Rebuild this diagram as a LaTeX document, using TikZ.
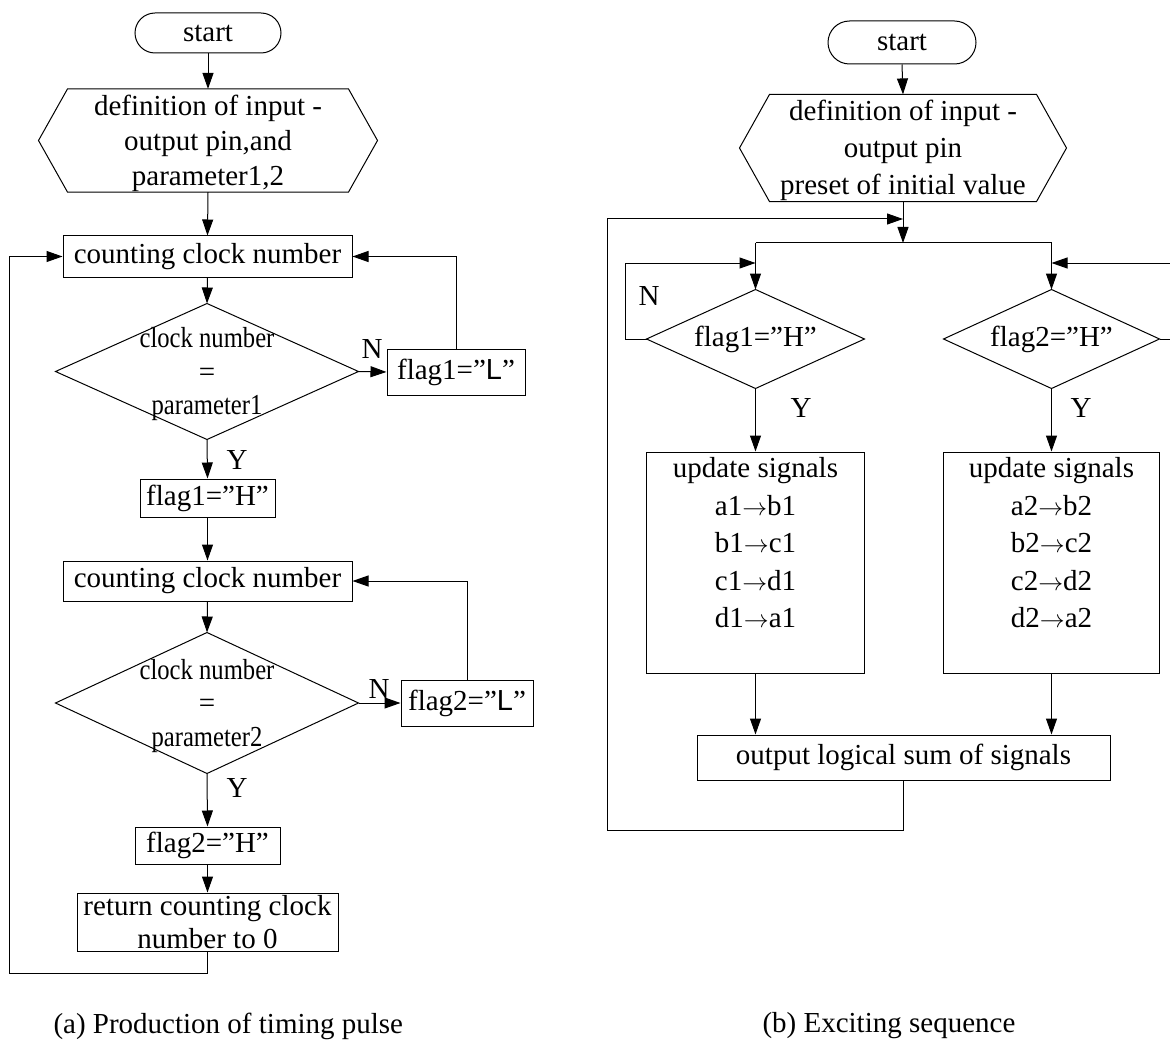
\documentclass[tikz,border=0pt]{standalone}
\usepackage{fontspec}
\setmainfont{Liberation Serif}
\newfontfamily\sansL{Liberation Sans}
\usepackage{graphicx}
\usetikzlibrary{arrows.meta}
\newcommand\condtxt[1]{\scalebox{0.85}[1]{#1}}
\newcommand\sarr{$\rightarrow$}
\newcommand\topstrut[1]{\rule{0pt}{#1}}
\begin{document}
\begin{tikzpicture}[x=1pt,y=-1pt,
  font=\fontsize{29}{35}\selectfont,
  line width=1pt,
  arr/.style={-{Triangle[length=16pt,width=11pt]}},
  box/.style={draw, inner sep=0pt, align=center},
  txt/.style={inner sep=0pt, align=center},
  lbl/.style={inner sep=0pt}]
\useasboundingbox (0,0) rectangle (1170,1043);

% ---------------- (a) ----------------
\node[box, rounded corners=20pt, minimum width=146pt, minimum height=40pt] (startA) at (208,33) {start};
\node[txt, minimum width=280pt, minimum height=99pt, font=\fontsize{29}{35}\selectfont] (hexA) at (208,140.5)
  {\topstrut{26pt}definition of input -\\output pin,and\\parameter1,2};
\draw (hexA.north west) -- (hexA.north east) -- ([xshift=29pt]hexA.east) -- (hexA.south east)
  -- (hexA.south west) -- ([xshift=-29pt]hexA.west) -- cycle;
\node[box, minimum width=289pt, minimum height=41pt] (cntA1) at (207.5,256.5) {counting clock number};
\node[txt, minimum width=302pt, minimum height=135pt, font=\fontsize{29}{33.5}\selectfont] (dA1) at (207,371.5)
  {\topstrut{26pt}\condtxt{clock number}\\=\\\condtxt{parameter1}};
\draw (dA1.west) -- (dA1.north) -- (dA1.east) -- (dA1.south) -- cycle;
\node[box, minimum width=138pt, minimum height=46pt] (flagL1) at (456,372) {flag1=”{\sansL L}”};
\node[lbl] (N1) at (372,349) {N};
\node[lbl] (Y1) at (237,460) {Y};
\node[box, minimum width=135pt, minimum height=38pt] (flagH1) at (207.5,498) {flag1=”H”};
\node[box, minimum width=289pt, minimum height=40pt] (cntA2) at (207.5,581) {counting clock number};
\node[txt, minimum width=302pt, minimum height=140pt, font=\fontsize{29}{33.5}\selectfont] (dA2) at (207,703)
  {\topstrut{26pt}\condtxt{clock number}\\=\\\condtxt{parameter2}};
\draw (dA2.west) -- (dA2.north) -- (dA2.east) -- (dA2.south) -- cycle;
\node[box, minimum width=132pt, minimum height=46pt] (flagL2) at (467,703) {flag2=”{\sansL L}”};
\node[lbl] (N2) at (379,689) {N};
\node[lbl] (Y2) at (237,788) {Y};
\node[box, minimum width=145pt, minimum height=37pt] (flagH2) at (207.5,845.5) {flag2=”H”};
\node[box, minimum width=261pt, minimum height=58pt, font=\fontsize{29}{33}\selectfont] (ret) at (207.5,922)
  {return counting clock\\number to 0};
\coordinate (fbA) at (9.5,973);

\draw[arr] (startA.south) -- (hexA.north);
\draw[arr] (hexA.south) -- (cntA1.north);
\draw[arr] (cntA1.south) -- (dA1.north);
\draw[arr] (dA1.east) -- (flagL1.west);
\draw[arr] (flagL1.north) |- (cntA1.east);
\draw[arr] (dA1.south) -- (flagH1.north);
\draw[arr] (flagH1.south) -- (cntA2.north);
\draw[arr] (cntA2.south) -- (dA2.north);
\draw[arr] (dA2.east) -- (flagL2.west);
\draw[arr] (flagL2.north) |- (cntA2.east);
\draw[arr] (dA2.south) -- (flagH2.north);
\draw[arr] (flagH2.south) -- (ret.north);
\draw[arr] (ret.south) |- (fbA) |- (cntA1.west);

\node[anchor=west, inner sep=0pt] (capA) at (53,1026) {(a) Production of timing pulse};

% ---------------- (b) ----------------
\node[box, rounded corners=21.5pt, minimum width=148pt, minimum height=43pt] (startB) at (902,42.5) {start};
\node[txt, minimum width=266pt, minimum height=104pt, font=\fontsize{29}{37}\selectfont] (hexB) at (903,148)
  {\topstrut{26pt}definition of input -\\output pin\\preset of initial value};
\draw (hexB.north west) -- (hexB.north east) -- ([xshift=30pt]hexB.east) -- (hexB.south east)
  -- (hexB.south west) -- ([xshift=-30pt]hexB.west) -- cycle;
\coordinate (jB) at (903,219);
\coordinate (hB) at (903,243);
\coordinate (hL) at (755.5,243);
\coordinate (hR) at (1051.5,243);
\node[txt, minimum width=217pt, minimum height=98pt] (dB1) at (755.5,339) {flag1=”H”};
\draw (dB1.west) -- (dB1.north) -- (dB1.east) -- (dB1.south) -- cycle;
\node[txt, minimum width=215pt, minimum height=98pt] (dB2) at (1051.5,339) {flag2=”H”};
\draw (dB2.west) -- (dB2.north) -- (dB2.east) -- (dB2.south) -- cycle;
\node[lbl] (N3) at (649,296) {N};
\node[lbl] (Y3) at (801,408) {Y};
\node[lbl] (Y4) at (1081,408) {Y};
\coordinate (nL) at (625,263);
\coordinate (nLend) at (755.5,263);
\coordinate (nR) at (1172,263);
\coordinate (nRend) at (1051.5,263);

\node[draw, minimum width=218pt, minimum height=221pt, inner sep=0pt] (updB1) at (755.5,562.5) {};
\node[txt, anchor=north, font=\fontsize{29}{37.5}\selectfont] (updT1) at (755.5,457)
  {update signals\\a1\sarr b1\\b1\sarr c1\\c1\sarr d1\\d1\sarr a1};
\node[draw, minimum width=216pt, minimum height=221pt, inner sep=0pt] (updB2) at (1051.5,562.5) {};
\node[txt, anchor=north, font=\fontsize{29}{37.5}\selectfont] (updT2) at (1051.5,457)
  {update signals\\a2\sarr b2\\b2\sarr c2\\c2\sarr d2\\d2\sarr a2};
\node[box, minimum width=413pt, minimum height=45pt] (outB) at (903.5,757.5) {output logical sum of signals};
\coordinate (fbB) at (607,830);

\draw[arr] (startB.south) -- (hexB.north);
\draw[arr] (hexB.south) -- (hB);
\draw (hL) -- (hR);
\draw[arr] (hL) -- (dB1.north);
\draw[arr] (hR) -- (dB2.north);
\draw[arr] (dB1.west) -| (nL) -- (nLend);
\draw[arr] (dB2.east) -| (nR) -- (nRend);
\draw[arr] (dB1.south) -- (updB1.north);
\draw[arr] (dB2.south) -- (updB2.north);
\draw[arr] (updB1.south) -- (updB1.south |- outB.north);
\draw[arr] (updB2.south) -- (updB2.south |- outB.north);
\draw[arr] (outB.south) |- (fbB) |- (jB);

\node[anchor=west, inner sep=0pt] (capB) at (762,1026) {(b) Exciting sequence};
\end{tikzpicture}
\end{document}
